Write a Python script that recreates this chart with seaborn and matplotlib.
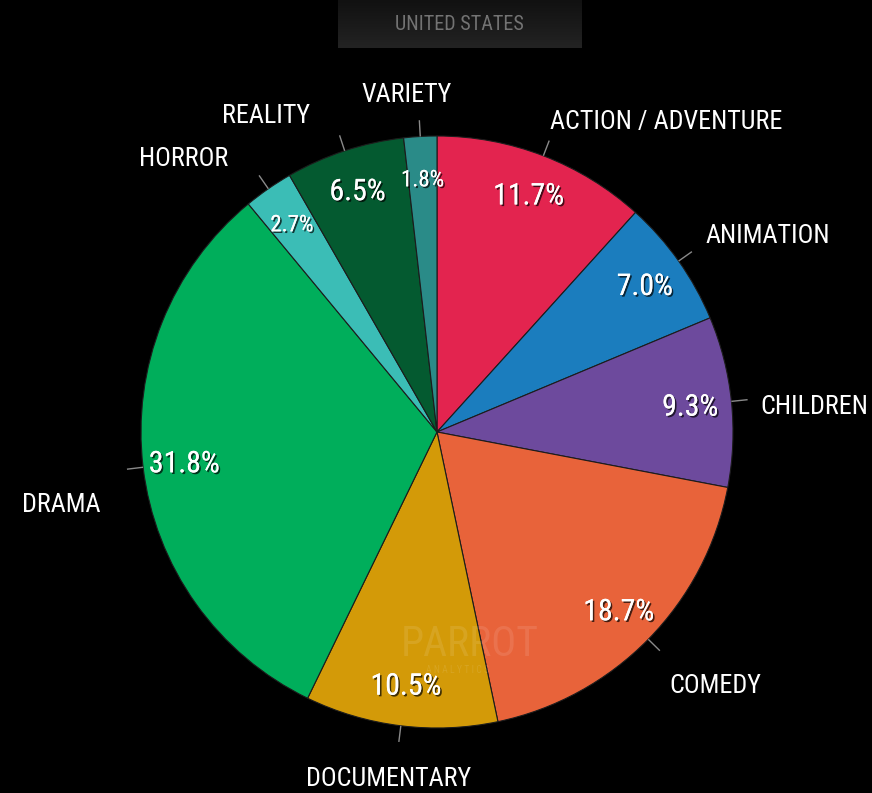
import numpy as np
import matplotlib
matplotlib.use("Agg")
import matplotlib.pyplot as plt
import matplotlib.patheffects as pe
import seaborn as sns

# Genre share of demand, United States
genres = ["ACTION / ADVENTURE", "ANIMATION", "CHILDREN", "COMEDY", "DOCUMENTARY",
          "DRAMA", "HORROR", "REALITY", "VARIETY"]
share = [11.7, 7.0, 9.3, 18.7, 10.5, 31.8, 2.7, 6.5, 1.8]
genre_colors = ["#E3244F", "#1B7DBE", "#6D4A9D", "#E8633A", "#D39A08",
                "#00AE5B", "#3BBDB6", "#045A30", "#2A8B88"]
region_title = "UNITED STATES"
brand = "PARROT"
brand_sub = "A N A L Y T I C S"

sns.set_theme(style="dark", rc={"figure.facecolor": "black", "axes.facecolor": "black",
                                "savefig.facecolor": "black"})
plt.rcParams["font.family"] = ["Roboto Condensed", "DejaVu Sans Condensed",
                               "Liberation Sans Narrow", "Liberation Sans"]

W, H = 872, 793
fig = plt.figure(figsize=(W / 100, H / 100), dpi=100, facecolor="black")
ax = fig.add_axes([0, 0, 1, 1])

cx, cy, R = 437, 361, 296
wedges, _ = ax.pie(share, colors=sns.color_palette(genre_colors), startangle=90,
                   counterclock=False, center=(cx, cy), radius=R, frame=True,
                   wedgeprops=dict(edgecolor="#1c1c1c", linewidth=0.8))
ax.set_xlim(0, W)
ax.set_ylim(0, H)
ax.set_aspect("equal")
ax.axis("off")

# label layout tweaks (pixels: dx, dy upward)
label_nudge = {
    "ACTION / ADVENTURE": (-7, -2), "ANIMATION": (-5, 3), "CHILDREN": (-9, -10),
    "COMEDY": (-6, -20), "DOCUMENTARY": (-7, -15), "DRAMA": (-4, -33),
    "HORROR": (-18, -2), "REALITY": (-23, -2), "VARIETY": (-11, 3),
}

shadow = [pe.withSimplePatchShadow(offset=(1.2, -1.2), shadow_rgbFace="black", alpha=0.7),
          pe.Normal()]

for w, name, val in zip(wedges, genres, share):
    mid = np.deg2rad((w.theta1 + w.theta2) / 2)
    c, s = np.cos(mid), np.sin(mid)
    # percentage inside the slice; thin slices get a smaller label
    ax.text(cx + 0.86 * R * c, cy + 0.86 * R * s - 2, f"{val:.1f}%", color="white",
            fontsize=21.5 if val >= 5 else 16.5, ha="center", va="center",
            path_effects=shadow, zorder=5)
    # connector
    ax.plot([cx + R * c, cx + 1.055 * R * c], [cy + R * s, cy + 1.055 * R * s],
            color="#8a8a8a", lw=1, solid_capstyle="butt", zorder=4)
    # category label
    dx, dy = label_nudge[name]
    ha = "center" if abs(c) < 0.15 else ("left" if c > 0 else "right")
    ax.text(cx + 1.13 * R * c + dx, cy + 1.13 * R * s + dy, name, color="white",
            fontsize=18.8, ha=ha, va="center", zorder=5)

# title box with vertical gradient
grad = np.linspace(0, 1, 64).reshape(-1, 1)
ax.imshow(grad, extent=(338, 581, H - 48, H), cmap=matplotlib.colors.LinearSegmentedColormap.from_list(
    "tb", ["#232323", "#111111"]), origin="lower", aspect="auto", zorder=3)
ax.text(459.5, H - 24, region_title, color="#737373", fontsize=14.5, ha="center", va="center", zorder=4)
ax.set_xlim(0, W)
ax.set_ylim(0, H)

# faint watermark
ax.text(470, H - 645, brand, color="white", alpha=0.10, fontsize=30, ha="center", va="center", zorder=4)
ax.text(458, H - 670, brand_sub, color="white", alpha=0.10, fontsize=7, ha="center", va="center", zorder=4)

fig.savefig("out.png", dpi=100, facecolor="black")
